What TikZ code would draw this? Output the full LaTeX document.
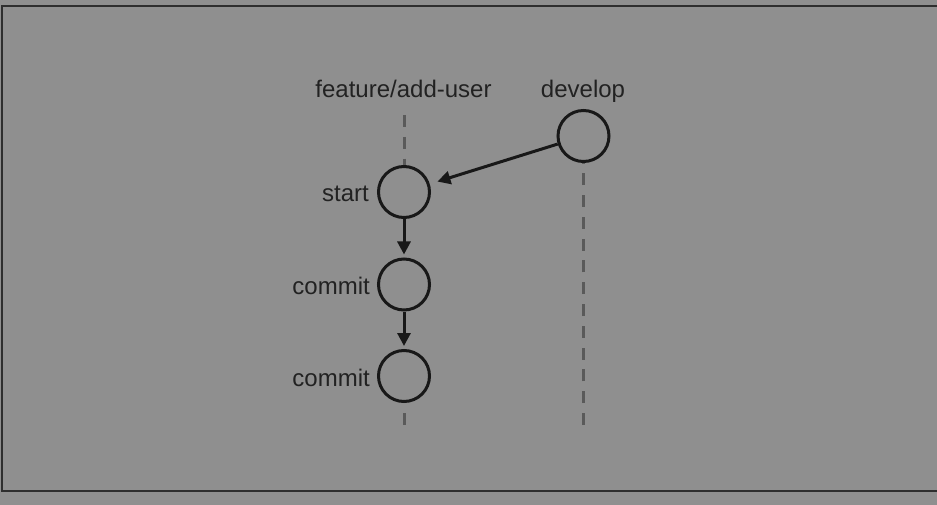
\documentclass[tikz,border=0pt]{standalone}
\usepackage{fontspec}
\setmainfont{Liberation Sans}
\usetikzlibrary{arrows.meta}
\definecolor{bg}{HTML}{8F8F8F}
\definecolor{ink}{HTML}{181818}
\definecolor{txt}{HTML}{222222}
\definecolor{lane}{HTML}{5A5A5A}
\definecolor{framec}{HTML}{2E2E2E}
\begin{document}
\begin{tikzpicture}[x=1pt,y=-1pt,
  commitnode/.style={circle,draw=ink,line width=3pt,minimum size=51pt,inner sep=0pt},
  lbl/.style={font=\fontsize{24}{28}\selectfont,text=txt,inner sep=0pt},
  lanestyle/.style={draw=lane,line width=3pt,dash pattern=on 12pt off 9.8pt},
  flow/.style={draw=ink,line width=3pt,-{Triangle[length=13pt,width=13pt]}}]
\fill[bg] (0,0) rectangle (937,505);
\useasboundingbox (0,0) rectangle (937,505);
\draw[framec,line width=2pt] (937,5.75) -- (1.8,5.75) -- (1.8,491) -- (937,491);

% commits
\node[commitnode] (dev) at (583.5,136) {};
\node[commitnode] (start) at (404,192) {};
\node[commitnode] (c1) at (404,284.5) {};
\node[commitnode] (c2) at (404,376) {};

% labels
\node[lbl,anchor=base] (flbl) at (403.5,98) {feature/add-user};
\node[lbl,anchor=base] (dlbl) at (583,98) {develop};
\node[lbl,anchor=base east] (slbl) at (369,201.5) {start};
\node[lbl,anchor=base east] (c1lbl) at (370,294) {commit};
\node[lbl,anchor=base east] (c2lbl) at (370,386) {commit};

% lanes
\coordinate (ftop) at (404,115);
\coordinate (fend) at (404,425);
\coordinate (dend) at (583.5,425);
\draw[lanestyle] (ftop) -- (start.north);
\draw[lanestyle] (fend) -- ++(0,-12);
\draw[lanestyle] (dend) -- (dev.south);

% connectors
\draw[flow,shorten >=8pt] (dev) -- (start);
\draw[flow,shorten >=3pt] (start) -- (c1);
\draw[flow,shorten >=3pt] (c1) -- (c2);
\end{tikzpicture}
\end{document}
